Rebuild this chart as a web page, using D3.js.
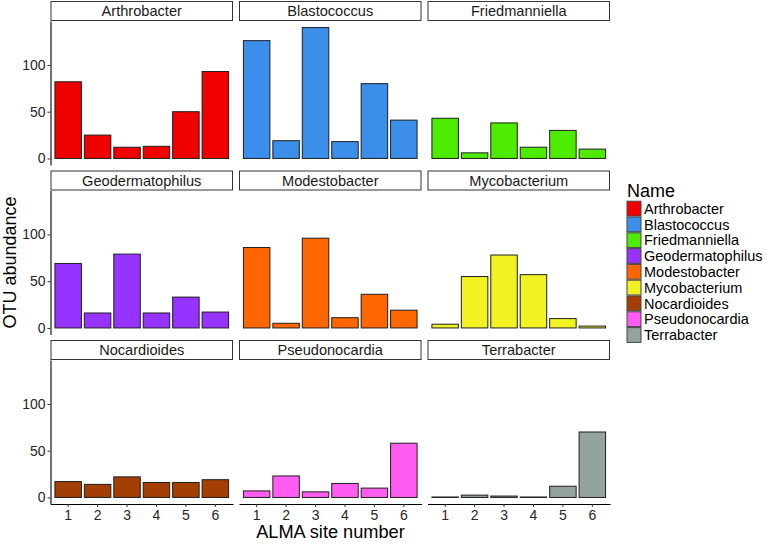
<!DOCTYPE html>
<html>
<head>
<meta charset="utf-8">
<script src="https://cdn.jsdelivr.net/npm/d3@7"></script>
<style>
  html, body { margin: 0; padding: 0; background: #ffffff; }
  svg { display: block; font-family: "Liberation Sans", Arial, sans-serif; }
</style>
</head>
<body>
<svg id="chart" width="767" height="544"></svg>
<script>
// ---- Data ----
const sites = ["1", "2", "3", "4", "5", "6"];
const genera = ["Arthrobacter", "Blastococcus", "Friedmanniella", "Geodermatophilus",
  "Modestobacter", "Mycobacterium", "Nocardioides", "Pseudonocardia", "Terrabacter"];
const colors = ["#F00000", "#3B8EEA", "#4DEB00", "#9633FF", "#FF6600",
  "#F2F222", "#A33F05", "#FF5CF2", "#94A3A0"];
const arthrobacter = [82, 25, 12, 13, 50, 93];
const blastococcus = [126, 19, 140, 18, 80, 41];
const friedmanniella = [43, 6, 38, 12, 30, 10];
const geodermatophilus = [69, 16, 79, 16, 33, 17];
const modestobacter = [86, 5, 96, 11, 36, 19];
const mycobacterium = [4, 55, 78, 57, 10, 2];
const nocardioides = [17, 14, 22, 16, 16, 19];
const pseudonocardia = [7, 23, 6, 15, 10, 58];
const terrabacter = [0.5, 2.5, 1.5, 0.5, 12, 70];
const seriesValues = [arthrobacter, blastococcus, friedmanniella, geodermatophilus,
  modestobacter, mycobacterium, nocardioides, pseudonocardia, terrabacter];
const yTicks = [0, 50, 100];
const xTitle = "ALMA site number";
const yTitle = "OTU abundance";
const legendTitle = "Name";

// ---- Layout ----
const svg = d3.select("#chart");
const ncol = 3;
const panelW = 182.5, gapX = 6, left0 = 50.5;
const stripH = 20, panelH = 144, rowPitch = 169.5, top0 = 1;
const yMax = d3.max(seriesValues.flat());
const yPad = yMax * 0.05;
const textCol = "#262626";

genera.forEach((g, i) => {
  const c = i % ncol, r = Math.floor(i / ncol);
  const x0 = left0 + c * (panelW + gapX);
  const sTop = top0 + r * rowPitch;
  const pTop = sTop + stripH, pBot = pTop + panelH;

  const x = d3.scaleBand().domain(sites).range([x0, x0 + panelW])
    .paddingInner(0.1).paddingOuter(0.15);
  const y = d3.scaleLinear().domain([-yPad, yMax + yPad]).range([pBot, pTop]);

  // strip
  svg.append("rect").attr("x", x0 + 0.5).attr("y", sTop + 0.5)
    .attr("width", panelW - 1).attr("height", stripH - 1)
    .attr("fill", "#ffffff").attr("stroke", "#333333").attr("stroke-width", 1);
  svg.append("text").attr("x", x0 + panelW / 2).attr("y", sTop + stripH / 2)
    .attr("dy", "0.36em").attr("text-anchor", "middle")
    .attr("font-size", 14.6).attr("fill", "#1a1a1a").text(g);

  // bars
  const vals = seriesValues[i];
  svg.append("g").selectAll("rect").data(sites).join("rect")
    .attr("x", d => x(d))
    .attr("width", x.bandwidth())
    .attr("y", (d, k) => y(vals[k]))
    .attr("height", (d, k) => y(0) - y(vals[k]))
    .attr("fill", colors[i])
    .attr("stroke", "#1f1f1f").attr("stroke-width", 1);

  // y axis (left column)
  if (c === 0) {
    const ax = svg.append("g").attr("transform", `translate(${x0},0)`)
      .call(d3.axisLeft(y).tickValues(yTicks).tickSize(3).tickSizeOuter(0).tickPadding(2));
    ax.select(".domain").attr("stroke", "#000").attr("stroke-width", 1.1);
    ax.selectAll(".tick line").attr("stroke", "#333");
    ax.selectAll(".tick text").attr("font-size", 14).attr("fill", textCol)
      .attr("font-family", "Liberation Sans, Arial, sans-serif");
  }
  // x axis (bottom row)
  if (r === 2) {
    const ax = svg.append("g").attr("transform", `translate(0,${pBot})`)
      .call(d3.axisBottom(x).tickSize(3).tickSizeOuter(0).tickPadding(3));
    ax.select(".domain").attr("stroke", "#000").attr("stroke-width", 1.1);
    ax.selectAll(".tick line").attr("stroke", "#333");
    ax.selectAll(".tick text").attr("font-size", 14).attr("fill", textCol)
      .attr("font-family", "Liberation Sans, Arial, sans-serif");
  }
});

// axis titles
svg.append("text").attr("x", 330.5).attr("y", 538).attr("text-anchor", "middle")
  .attr("font-size", 18.2).attr("fill", "#000").text(xTitle);
svg.append("text").attr("transform", "translate(16,262.5) rotate(-90)")
  .attr("text-anchor", "middle").attr("font-size", 18).attr("fill", "#000").text(yTitle);

// legend
const lg = svg.append("g");
lg.append("text").attr("x", 627).attr("y", 197).attr("font-size", 18)
  .attr("fill", "#000").text(legendTitle);
const keyH = 15.8, keyW = 15, keyX = 626.5, keyY0 = 200.7;
genera.forEach((g, i) => {
  lg.append("rect").attr("x", keyX + 0.5).attr("y", keyY0 + i * keyH + 0.5)
    .attr("width", keyW - 1).attr("height", keyH - 1)
    .attr("fill", colors[i]).attr("stroke", "#444").attr("stroke-width", 1);
  lg.append("text").attr("x", 644).attr("y", keyY0 + i * keyH + keyH / 2)
    .attr("dy", "0.36em").attr("font-size", 14.5).attr("fill", "#000").text(g);
});
</script>
</body>
</html>
